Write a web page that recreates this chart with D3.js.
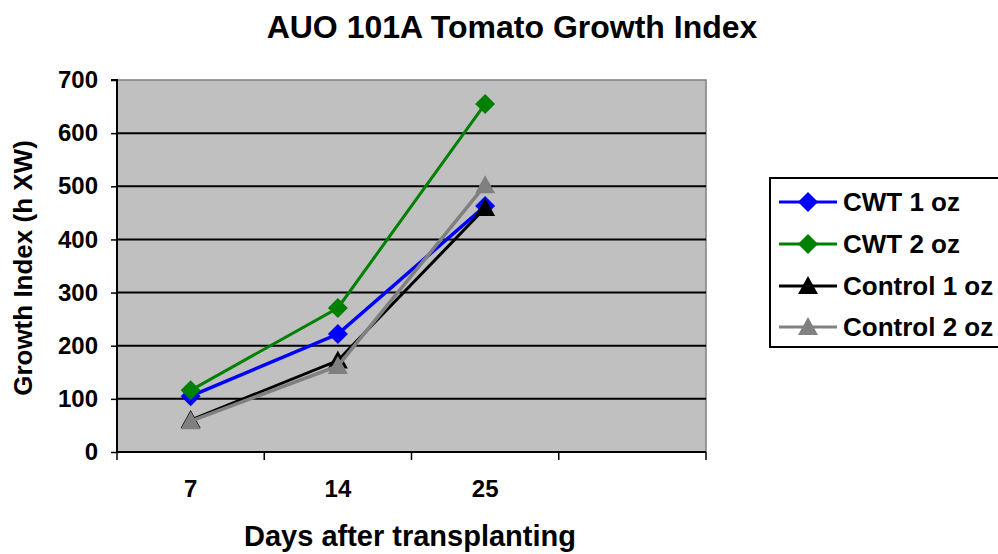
<!DOCTYPE html>
<html>
<head>
<meta charset="utf-8">
<script src="https://cdn.jsdelivr.net/npm/d3@7"></script>
<style>
  html, body { margin: 0; padding: 0; background: #ffffff; }
  svg { display: block; }
  text { font-family: "Liberation Sans", Arial, sans-serif; font-weight: bold; fill: #000; }
</style>
</head>
<body>
<svg id="chart" width="998" height="554"></svg>
<script>
// ---- data ----
const categories = ["7", "14", "25", ""];
const yTicks = [0, 100, 200, 300, 400, 500, 600, 700];
const seriesNames = ["CWT 1 oz", "CWT 2 oz", "Control 1 oz", "Control 2 oz"];
const cwt1 = [105, 222, 463];
const cwt2 = [116, 271, 655];
const control1 = [60, 172, 459];
const control2 = [58, 162, 502];
const seriesValues = [cwt1, cwt2, control1, control2];
const seriesColors = ["#0000FF", "#008000", "#000000", "#808080"];
const seriesShapes = ["diamond", "diamond", "triangle", "triangle"];
const seriesWidths = [3.5, 3, 3, 3.5];

const svg = d3.select("#chart");
const plot = { left: 117, right: 706, top: 80, bottom: 452 };
const FONT = '"Liberation Sans", Arial, sans-serif';

const x = d3.scaleBand().domain(categories).range([plot.left, plot.right]).paddingInner(0).paddingOuter(0);
const y = d3.scaleLinear().domain([0, 700]).range([plot.bottom, plot.top]);

// plot background
svg.append("rect")
  .attr("x", plot.left).attr("y", plot.top)
  .attr("width", plot.right - plot.left).attr("height", plot.bottom - plot.top)
  .attr("fill", "#C0C0C0").attr("stroke", "#808080").attr("stroke-width", 1.5);

// gridlines
svg.append("g").selectAll("line").data(yTicks.filter(d => d > 0 && d < 700)).join("line")
  .attr("x1", plot.left).attr("x2", plot.right)
  .attr("y1", d => y(d)).attr("y2", d => y(d))
  .attr("stroke", "#000").attr("stroke-width", 2);

// y axis
const yAxis = d3.axisLeft(y).tickValues(yTicks).tickSize(6).tickPadding(13);
const gy = svg.append("g").attr("transform", `translate(${plot.left},0)`).call(yAxis);
gy.select(".domain").attr("stroke", "#000").attr("stroke-width", 2).attr("d", `M-6,${plot.top}H0V${plot.bottom}`);
gy.selectAll(".tick line").attr("stroke", "#000").attr("stroke-width", 1.5);
gy.selectAll(".tick text").style("font-size", "24px").style("font-family", FONT).style("font-weight", "bold").attr("fill", "#000");

// x axis
const xAxis = d3.axisBottom(x).tickSize(0).tickPadding(28);
const gx = svg.append("g").attr("transform", `translate(0,${plot.bottom})`).call(xAxis);
gx.select(".domain").attr("stroke", "#000").attr("stroke-width", 2).attr("d", `M${plot.left},0H${plot.right}`);
gx.selectAll(".tick text").style("font-size", "24px").style("font-family", FONT).style("font-weight", "bold").attr("fill", "#000");
// category boundary ticks
const bounds = categories.map(c => x(c)).concat([x(categories[categories.length - 1]) + x.bandwidth()]);
gx.append("g").selectAll("line").data(bounds).join("line")
  .attr("x1", d => d).attr("x2", d => d).attr("y1", 0).attr("y2", 8)
  .attr("stroke", "#000").attr("stroke-width", 1.5);

// series
function markerPath(shape) {
  if (shape === "diamond") return "M0,-10L10,0L0,10L-10,0Z";
  return "M0,-10L10,8L-10,8Z";
}
const line = d3.line().x((d, i) => x(categories[i]) + x.bandwidth() / 2).y(d => y(d));
seriesValues.forEach((vals, si) => {
  const g = svg.append("g");
  g.append("path").attr("d", line(vals)).attr("fill", "none")
    .attr("stroke", seriesColors[si]).attr("stroke-width", seriesWidths[si]).attr("stroke-linejoin", "miter");
  g.selectAll("path.m").data(vals).join("path").attr("class", "m")
    .attr("transform", (d, i) => `translate(${x(categories[i]) + x.bandwidth() / 2},${y(d)})`)
    .attr("d", markerPath(seriesShapes[si]))
    .attr("fill", seriesColors[si]);
});

// title
svg.append("text").attr("x", 512).attr("y", 38).attr("text-anchor", "middle")
  .style("font-size", "32px").text("AUO 101A Tomato Growth Index");

// axis titles
svg.append("text").attr("x", 410).attr("y", 546).attr("text-anchor", "middle")
  .style("font-size", "29px").text("Days after transplanting");
svg.append("text").attr("transform", "translate(32,268) rotate(-90)").attr("text-anchor", "middle")
  .style("font-size", "26px").text("Growth Index (h XW)");

// legend
const lg = svg.append("g");
lg.append("rect").attr("x", 770).attr("y", 178).attr("width", 260).attr("height", 169)
  .attr("fill", "#fff").attr("stroke", "#000").attr("stroke-width", 2);
const legendY = [202, 244, 286, 327];
seriesNames.forEach((name, si) => {
  const ly = legendY[si];
  lg.append("line").attr("x1", 779).attr("x2", 837).attr("y1", ly).attr("y2", ly)
    .attr("stroke", seriesColors[si]).attr("stroke-width", 3);
  lg.append("path").attr("transform", `translate(808,${ly})`).attr("d", markerPath(seriesShapes[si]))
    .attr("fill", seriesColors[si]);
  lg.append("text").attr("x", 843).attr("y", ly + 9).style("font-size", "26px").text(name);
});
</script>
</body>
</html>
